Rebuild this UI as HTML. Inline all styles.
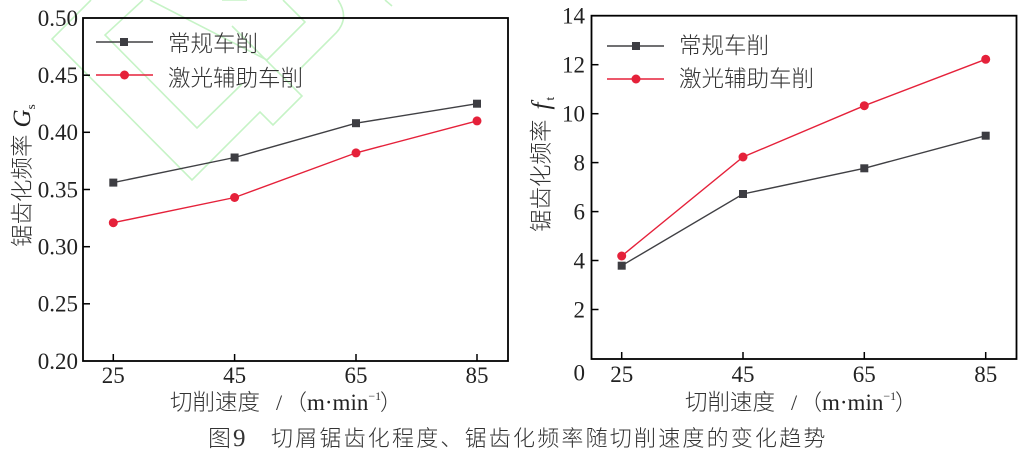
<!DOCTYPE html>
<html><head><meta charset="utf-8"><style>
html,body{margin:0;padding:0;background:#fff;}
svg{display:block;}
.cjk{font-family:"Liberation Sans","Noto Sans CJK SC",sans-serif;font-weight:300;}
.ser{font-family:"Liberation Serif","Noto Serif CJK SC",serif;}
</style></head><body>
<svg width="1024" height="454" viewBox="0 0 1024 454" xmlns="http://www.w3.org/2000/svg">
<rect width="1024" height="454" fill="#fff"/>
<!-- watermark -->
<g fill="none" stroke="#c6f3c6" stroke-width="1.6">
<polyline points="91,0 52,39 192,180 260,112 273,125 302,96 232,26"/>
<polyline points="143,0 105,35 197,128 242,84"/>
<polyline points="150,0 267,60 305,22 283,0"/>
<polyline points="222,0 247,0"/>
<path d="M338,0 Q350,18 336,33 L300,69"/>
<polyline points="385,0 392,6"/>
</g>
<!-- LEFT CHART -->
<g stroke="#000" stroke-width="1.8" fill="none">
<rect x="83" y="18" width="425" height="343"/>
</g>
<g stroke="#000" stroke-width="1.5">
<line x1="83" y1="75.2" x2="90" y2="75.2"/>
<line x1="83" y1="132.3" x2="90" y2="132.3"/>
<line x1="83" y1="189.5" x2="90" y2="189.5"/>
<line x1="83" y1="246.7" x2="90" y2="246.7"/>
<line x1="83" y1="303.8" x2="90" y2="303.8"/>
<line x1="113.3" y1="361" x2="113.3" y2="354"/>
<line x1="234.6" y1="361" x2="234.6" y2="354"/>
<line x1="356" y1="361" x2="356" y2="354"/>
<line x1="477" y1="361" x2="477" y2="354"/>
</g>
<g class="ser" font-size="23" fill="#222" text-anchor="end">
<text x="78" y="26">0.50</text>
<text x="78" y="83">0.45</text>
<text x="78" y="140">0.40</text>
<text x="78" y="197.5">0.35</text>
<text x="78" y="254.5">0.30</text>
<text x="78" y="311.5">0.25</text>
<text x="78" y="369">0.20</text>
</g>
<g class="ser" font-size="23" fill="#222" text-anchor="middle">
<text x="113.3" y="383">25</text>
<text x="234.6" y="383">45</text>
<text x="356" y="383">65</text>
<text x="477" y="383">85</text>
</g>
<text transform="translate(30,247) rotate(-90)" fill="#333"><tspan class="cjk" font-size="22.5">锯齿化频率</tspan><tspan class="ser" font-style="italic" font-size="25" dx="7" fill="#222">G</tspan><tspan class="ser" font-size="13" dy="5" fill="#222">s</tspan></text>
<text y="410" fill="#333"><tspan class="cjk" font-size="22.5" x="170">切削速度</tspan><tspan class="ser" font-size="22" x="276">/</tspan><tspan class="cjk" font-size="22" x="285">（</tspan><tspan class="ser" font-size="23" x="307" fill="#222">m·min</tspan><tspan class="ser" font-size="12" dy="-10">−1</tspan><tspan class="cjk" font-size="22" dy="10" x="380">）</tspan></text>
<!-- legend left -->
<line x1="96" y1="42" x2="153" y2="42" stroke="#404044" stroke-width="1.4"/>
<rect x="120" y="38" width="8" height="8" fill="#3d3d42"/>
<line x1="96" y1="75" x2="153" y2="75" stroke="#e5213a" stroke-width="1.4"/>
<circle cx="124.5" cy="75" r="4.5" fill="#e5213a"/>
<text class="cjk" font-size="22.5" fill="#333" x="168" y="51.5">常规车削</text>
<text class="cjk" font-size="22.5" fill="#333" x="168" y="86">激光辅助车削</text>
<!-- series left -->
<polyline points="113.3,182.6 234.6,157.5 356,123.2 477,103.7" fill="none" stroke="#404044" stroke-width="1.4"/>
<polyline points="113.3,222.7 234.6,197.5 356,152.9 477,120.9" fill="none" stroke="#e5213a" stroke-width="1.4"/>
<g fill="#3d3d42">
<rect x="109.3" y="178.6" width="8" height="8"/>
<rect x="230.6" y="153.5" width="8" height="8"/>
<rect x="352" y="119.2" width="8" height="8"/>
<rect x="473" y="99.7" width="8" height="8"/>
</g>
<g fill="#e5213a">
<circle cx="113.3" cy="222.7" r="4.5"/>
<circle cx="234.6" cy="197.5" r="4.5"/>
<circle cx="356" cy="152.9" r="4.5"/>
<circle cx="477" cy="120.9" r="4.5"/>
</g>
<!-- RIGHT CHART -->
<rect x="591.5" y="15.7" width="425" height="343.3" fill="none" stroke="#000" stroke-width="1.8"/>
<g stroke="#000" stroke-width="1.5">
<line x1="591.5" y1="309.5" x2="598.5" y2="309.5"/>
<line x1="591.5" y1="260.5" x2="598.5" y2="260.5"/>
<line x1="591.5" y1="211.6" x2="598.5" y2="211.6"/>
<line x1="591.5" y1="162.6" x2="598.5" y2="162.6"/>
<line x1="591.5" y1="113.7" x2="598.5" y2="113.7"/>
<line x1="591.5" y1="64.7" x2="598.5" y2="64.7"/>
<line x1="621.7" y1="359" x2="621.7" y2="352"/>
<line x1="743" y1="359" x2="743" y2="352"/>
<line x1="864.3" y1="359" x2="864.3" y2="352"/>
<line x1="985.7" y1="359" x2="985.7" y2="352"/>
</g>
<g class="ser" font-size="23" fill="#222" text-anchor="end">
<text x="585" y="23.5">14</text>
<text x="585" y="72.5">12</text>
<text x="585" y="121.5">10</text>
<text x="585" y="170.5">8</text>
<text x="585" y="219.5">6</text>
<text x="585" y="268.5">4</text>
<text x="585" y="317.5">2</text>
<text x="585" y="380.5">0</text>
</g>
<g class="ser" font-size="23" fill="#222" text-anchor="middle">
<text x="621.7" y="382">25</text>
<text x="743" y="382">45</text>
<text x="864.3" y="382">65</text>
<text x="985.7" y="382">85</text>
</g>
<text transform="translate(549,232) rotate(-90)" fill="#333"><tspan class="cjk" font-size="22.5">锯齿化频率</tspan><tspan class="ser" font-style="italic" font-size="25" dx="10" fill="#222">f</tspan><tspan class="ser" font-size="13" dy="5" dx="2" fill="#222">t</tspan></text>
<text y="410" fill="#333"><tspan class="cjk" font-size="22.5" x="685">切削速度</tspan><tspan class="ser" font-size="22" x="791">/</tspan><tspan class="cjk" font-size="22" x="800">（</tspan><tspan class="ser" font-size="23" x="822" fill="#222">m·min</tspan><tspan class="ser" font-size="12" dy="-10">−1</tspan><tspan class="cjk" font-size="22" dy="10" x="895">）</tspan></text>
<!-- legend right -->
<line x1="607" y1="46" x2="664" y2="46" stroke="#404044" stroke-width="1.4"/>
<rect x="632" y="42" width="8" height="8" fill="#3d3d42"/>
<line x1="607" y1="79" x2="664" y2="79" stroke="#e5213a" stroke-width="1.4"/>
<circle cx="636" cy="79" r="4.5" fill="#e5213a"/>
<text class="cjk" font-size="22.5" fill="#333" x="679" y="53.5">常规车削</text>
<text class="cjk" font-size="22.5" fill="#333" x="679" y="86.5">激光辅助车削</text>
<!-- series right -->
<polyline points="621.7,265.7 743,194 864.3,168.3 985.7,135.7" fill="none" stroke="#404044" stroke-width="1.4"/>
<polyline points="621.7,256 743,157 864.3,105.7 985.7,59.3" fill="none" stroke="#e5213a" stroke-width="1.4"/>
<g fill="#3d3d42">
<rect x="617.7" y="261.7" width="8" height="8"/>
<rect x="739" y="190" width="8" height="8"/>
<rect x="860.3" y="164.3" width="8" height="8"/>
<rect x="981.7" y="131.7" width="8" height="8"/>
</g>
<g fill="#e5213a">
<circle cx="621.7" cy="256" r="4.5"/>
<circle cx="743" cy="157" r="4.5"/>
<circle cx="864.3" cy="105.7" r="4.5"/>
<circle cx="985.7" cy="59.3" r="4.5"/>
</g>
<!-- caption -->
<text y="446" fill="#333" font-size="22"><tspan class="cjk" x="208" font-size="23">图</tspan><tspan class="ser" font-size="25" x="233">9</tspan><tspan class="cjk" x="271" letter-spacing="2.2">切屑锯齿化程度、锯齿化频率随切削速度的变化趋势</tspan></text>
</svg>
</body></html>
